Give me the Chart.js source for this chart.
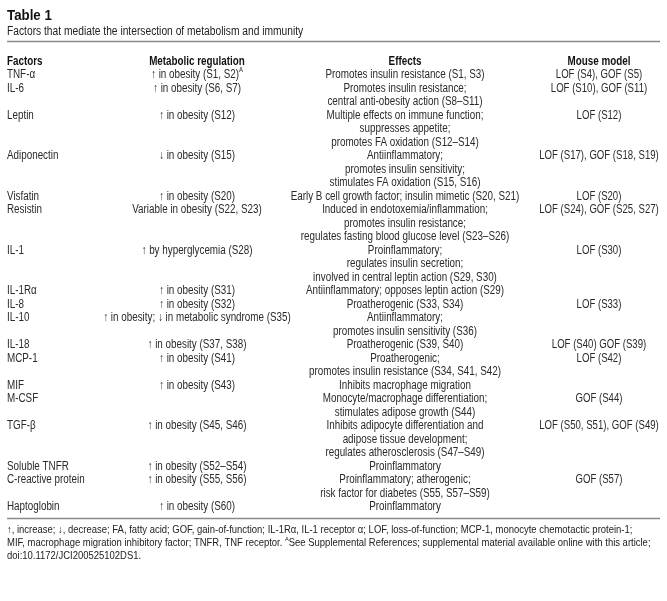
<!DOCTYPE html>
<html>
<head>
<meta charset="utf-8">
<script src="https://cdn.jsdelivr.net/npm/chart.js@4.4.1/dist/chart.umd.min.js"></script>
<style>
  html, body { margin: 0; padding: 0; background: #fff; }
  #wrap { width: 667px; height: 601px; position: relative; }
</style>
</head>
<body>
<div id="wrap"><canvas id="table"></canvas></div>
<script>
"use strict";

// table content, one entry per row ("^A" marks a superscript)
var tableTitle = "Table 1";
var tableSubtitle = "Factors that mediate the intersection of metabolism and immunity";
var headers = ["Factors", "Metabolic regulation", "Effects", "Mouse model"];

var factors = [
    "TNF-α", "IL-6", "Leptin", "Adiponectin", "Visfatin", "Resistin", "IL-1", "IL-1Rα", "IL-8",
    "IL-10", "IL-18", "MCP-1", "MIF", "M-CSF", "TGF-β", "Soluble TNFR", "C-reactive protein", "Haptoglobin"
];

var metabolic = [
    "↑ in obesity (S1, S2)^A", "↑ in obesity (S6, S7)", "↑ in obesity (S12)", "↓ in obesity (S15)",
    "↑ in obesity (S20)", "Variable in obesity (S22, S23)", "↑ by hyperglycemia (S28)", "↑ in obesity (S31)",
    "↑ in obesity (S32)", "↑ in obesity; ↓ in metabolic syndrome (S35)", "↑ in obesity (S37, S38)",
    "↑ in obesity (S41)", "↑ in obesity (S43)", "", "↑ in obesity (S45, S46)", "↑ in obesity (S52–S54)",
    "↑ in obesity (S55, S56)", "↑ in obesity (S60)"
];

var effects = [
    ["Promotes insulin resistance (S1, S3)"],
    ["Promotes insulin resistance;", "central anti-obesity action (S8–S11)"],
    ["Multiple effects on immune function;", "suppresses appetite;", "promotes FA oxidation (S12–S14)"],
    ["Antiinflammatory;", "promotes insulin sensitivity;", "stimulates FA oxidation (S15, S16)"],
    ["Early B cell growth factor; insulin mimetic (S20, S21)"],
    ["Induced in endotoxemia/inflammation;", "promotes insulin resistance;", "regulates fasting blood glucose level (S23–S26)"],
    ["Proinflammatory;", "regulates insulin secretion;", "involved in central leptin action (S29, S30)"],
    ["Antiinflammatory; opposes leptin action (S29)"],
    ["Proatherogenic (S33, S34)"],
    ["Antiinflammatory;", "promotes insulin sensitivity (S36)"],
    ["Proatherogenic (S39, S40)"],
    ["Proatherogenic;", "promotes insulin resistance (S34, S41, S42)"],
    ["Inhibits macrophage migration"],
    ["Monocyte/macrophage differentiation;", "stimulates adipose growth (S44)"],
    ["Inhibits adipocyte differentiation and", "adipose tissue development;", "regulates atherosclerosis (S47–S49)"],
    ["Proinflammatory"],
    ["Proinflammatory; atherogenic;", "risk factor for diabetes (S55, S57–S59)"],
    ["Proinflammatory"]
];

var mouseModel = [
    "LOF (S4), GOF (S5)", "LOF (S10), GOF (S11)", "LOF (S12)", "LOF (S17), GOF (S18, S19)", "LOF (S20)",
    "LOF (S24), GOF (S25, S27)", "LOF (S30)", "", "LOF (S33)", "", "LOF (S40) GOF (S39)", "LOF (S42)",
    "", "GOF (S44)", "LOF (S50, S51), GOF (S49)", "", "GOF (S57)", ""
];

var footnotes = [
    "↑, increase; ↓, decrease; FA, fatty acid; GOF, gain-of-function; IL-1Rα, IL-1 receptor α; LOF, loss-of-function; MCP-1, monocyte chemotactic protein-1;",
    "MIF, macrophage migration inhibitory factor; TNFR, TNF receptor. ^ASee Supplemental References; supplemental material available online with this article;",
    "doi:10.1172/JCI200525102DS1."
];

// layout: x in pixels, y in text lines (header = line 0)
var LINE_MIN = -4.55, LINE_MAX = 39.96;
var COLS = [
    { x: 7, align: "left" },
    { x: 197, align: "center" },
    { x: 405, align: "center" },
    { x: 599, align: "center" }
];
var TITLE_LINE = -3.35, SUBTITLE_LINE = -2.2, TOP_RULE = -1.5, BOTTOM_RULE = 33.85;
var FOOT_LINE = 34.72, FOOT_STEP = 0.95;

var FAMILY = '"Liberation Sans", Arial, "DejaVu Sans", sans-serif';
var NARROW = 0.82;    // horizontal squeeze to mimic a condensed face
var BODY = "12px " + FAMILY;

// build cell list, each row takes as many lines as its longest cell
var cells = { label: [], meta: [], eff: [], mouse: [] };
var line = 1;
factors.forEach(function (name, i) {
    cells.label.push({ x: COLS[0].x, y: line, text: name });
    if (metabolic[i]) cells.meta.push({ x: COLS[1].x, y: line, text: metabolic[i] });
    effects[i].forEach(function (t, k) {
        cells.eff.push({ x: COLS[2].x, y: line + k, text: t });
    });
    if (mouseModel[i]) cells.mouse.push({ x: COLS[3].x, y: line, text: mouseModel[i] });
    line += effects[i].length;
});

function textSet(points, align, font, color, squeeze) {
    return {
        data: points,
        textAlign: align,
        textFont: font,
        textColor: color,
        squeeze: squeeze,
        pointRadius: 0,
        pointHoverRadius: 0
    };
}

var datasets = [
    textSet([{ x: COLS[0].x, y: TITLE_LINE, text: tableTitle }], "left", "bold 14px " + FAMILY, "#111", 0.95),
    textSet([{ x: COLS[0].x, y: SUBTITLE_LINE, text: tableSubtitle }], "left", "12.5px " + FAMILY, "#222", NARROW),
    textSet(headers.map(function (h, i) { return { x: COLS[i].x, y: 0, text: h }; }), null, "bold 12px " + FAMILY, "#111", NARROW),
    textSet(cells.label, "left", BODY, "#2a2a2a", NARROW),
    textSet(cells.meta, "center", BODY, "#2a2a2a", NARROW),
    textSet(cells.eff, "center", BODY, "#2a2a2a", NARROW),
    textSet(cells.mouse, "center", BODY, "#2a2a2a", 0.8),
    textSet(footnotes.map(function (t, i) { return { x: COLS[0].x, y: FOOT_LINE + i * FOOT_STEP, text: t }; }),
        "left", "10.3px " + FAMILY, "#222", 0.92)
];

// draws a string with optional "^A" superscripts, squeezed horizontally
function drawText(ctx, str, x, y, font, align, squeeze) {
    var parts = str.split(/(\^A)/).filter(function (p) { return p !== ""; });
    var size = parseFloat(font.match(/([\d.]+)px/)[1]);
    var supFont = font.replace(/[\d.]+px/, (size * 0.6).toFixed(1) + "px");
    var widths = parts.map(function (p) {
        ctx.font = p === "^A" ? supFont : font;
        return ctx.measureText(p === "^A" ? "A" : p).width * squeeze;
    });
    var total = widths.reduce(function (a, b) { return a + b; }, 0);
    var cx = align === "center" ? x - total / 2 : (align === "right" ? x - total : x);
    parts.forEach(function (p, i) {
        ctx.save();
        ctx.font = p === "^A" ? supFont : font;
        ctx.translate(cx, p === "^A" ? y - size * 0.38 : y);
        ctx.scale(squeeze, 1);
        ctx.textAlign = "left";
        ctx.textBaseline = "middle";
        ctx.fillText(p === "^A" ? "A" : p, 0, 0);
        ctx.restore();
        cx += widths[i];
    });
}

var tablePlugin = {
    id: "tableText",
    afterDatasetsDraw: function (chart) {
        var ctx = chart.ctx;
        var xs = chart.scales.x, ys = chart.scales.y;

        // horizontal rules
        ctx.save();
        ctx.strokeStyle = "#8a8a8a";
        ctx.lineWidth = 1.5;
        [TOP_RULE, BOTTOM_RULE].forEach(function (v) {
            var py = Math.round(ys.getPixelForValue(v)) + 0.5;
            ctx.beginPath();
            ctx.moveTo(xs.getPixelForValue(7), py);
            ctx.lineTo(xs.getPixelForValue(660), py);
            ctx.stroke();
        });
        ctx.restore();

        chart.data.datasets.forEach(function (ds, di) {
            var meta = chart.getDatasetMeta(di);
            ctx.fillStyle = ds.textColor;
            meta.data.forEach(function (pt, i) {
                var raw = ds.data[i];
                var align = ds.textAlign || (i === 0 ? "left" : "center");
                drawText(ctx, raw.text, pt.x, pt.y, ds.textFont, align, ds.squeeze);
            });
        });
    }
};

new Chart(document.getElementById("table"), {
    type: "scatter",
    data: { datasets: datasets },
    options: {
        responsive: true,
        maintainAspectRatio: false,
        animation: false,
        events: [],
        layout: { padding: 0 },
        plugins: { legend: { display: false }, tooltip: { enabled: false } },
        scales: {
            x: { type: "linear", min: 0, max: 667, display: false },
            y: { type: "linear", min: LINE_MIN, max: LINE_MAX, reverse: true, display: false }
        }
    },
    plugins: [tablePlugin]
});
</script>
</body>
</html>
